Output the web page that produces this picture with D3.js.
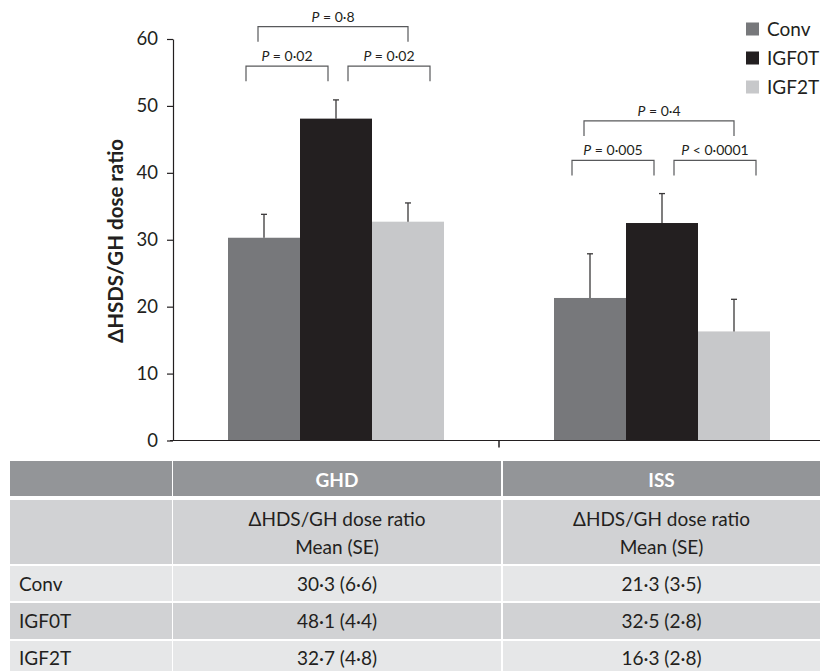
<!DOCTYPE html>
<html><head><meta charset="utf-8">
<script src="https://cdn.jsdelivr.net/npm/d3@7"></script>
<style>
body{margin:0;background:#fff;}
svg{display:block;font-family:Lato,"Open Sans",sans-serif;}
</style></head>
<body><svg id="c" width="820" height="671"></svg>
<script>
const groups = ["GHD", "ISS"];
const series = ["Conv", "IGF0T", "IGF2T"];
const means = { GHD: [30.3, 48.1, 32.7], ISS: [21.3, 32.5, 16.3] };
const tableSE = { GHD: [6.6, 4.4, 4.8], ISS: [3.5, 2.8, 2.8] };
const errBars = { GHD: [3.5, 2.8, 2.8], ISS: [6.6, 4.4, 4.8] };
const yTicks = [0, 10, 20, 30, 40, 50, 60];
const colors = ["#77787b", "#231f20", "#c7c8ca"];
// significance brackets: [group, fromSeries, toSeries, level, label]
const brackets = [
  ["GHD", 0, 1, 53.7, "= 0·02"],
  ["GHD", 1, 2, 53.7, "= 0·02"],
  ["GHD", 0, 2, 59.6, "= 0·8"],
  ["ISS", 0, 1, 39.6, "= 0·005"],
  ["ISS", 1, 2, 39.6, "< 0·0001"],
  ["ISS", 0, 2, 45.5, "= 0·4"]
];
const fmt = v => d3.format(".1f")(v).replace(".", "·");

const svg = d3.select("#c");
const txt = "#231f20";
const FS = 19;
const x = d3.scaleBand().domain(groups).range([173, 825]);
const y = d3.scaleLinear().domain([0, 60]).range([440.5, 39]);
const barW = 72;
const xs = d3.scaleBand().domain(series).range([0, barW * 3]);
const gx = g => x(g) + (x.bandwidth() - barW * 3) / 2;
const cx = (g, i) => gx(g) + xs(series[i]) + barW / 2;

// bars
groups.forEach(g => {
  series.forEach((s, i) => {
    svg.append("rect").attr("x", gx(g) + xs(s)).attr("y", y(means[g][i]))
      .attr("width", barW).attr("height", y(0) - y(means[g][i])).attr("fill", colors[i]);
    const top = means[g][i] + errBars[g][i];
    const c = cx(g, i);
    svg.append("line").attr("x1", c).attr("x2", c).attr("y1", y(means[g][i])).attr("y2", y(top))
      .attr("stroke", "#3a3839").attr("stroke-width", 1.3);
    svg.append("line").attr("x1", c - 3).attr("x2", c + 3).attr("y1", y(top)).attr("y2", y(top))
      .attr("stroke", "#3a3839").attr("stroke-width", 1.3);
  });
});

// axes
const ya = svg.append("g").attr("transform", "translate(173,0)")
  .call(d3.axisLeft(y).tickValues(yTicks).tickSize(6).tickSizeOuter(0).tickPadding(9));
ya.select(".domain").attr("stroke", "#231f20").attr("stroke-width", 1.2);
ya.selectAll(".tick line").attr("stroke", "#231f20").attr("stroke-width", 1.2);
ya.selectAll(".tick text").attr("font-size", 18.5).attr("fill", txt).attr("font-family", "Lato,sans-serif");
svg.append("line").attr("x1", 170).attr("x2", 820).attr("y1", y(0)).attr("y2", y(0))
  .attr("stroke", "#231f20").attr("stroke-width", 1.2);
svg.append("line").attr("x1", x("ISS")).attr("x2", x("ISS")).attr("y1", y(0)).attr("y2", y(0) + 7)
  .attr("stroke", "#231f20").attr("stroke-width", 1.5);

svg.append("text").attr("transform", "translate(123,241) rotate(-90)")
  .attr("text-anchor", "middle").attr("font-size", 20.5).attr("font-weight", "bold").attr("fill", txt)
  .text("ΔHSDS/GH dose ratio");

// brackets
brackets.forEach(([g, a, b, lvl, lab]) => {
  const lower = b - a === 1;
  const x1 = cx(g, a) + (lower ? (a === 0 ? -18 : 12) : -6);
  const x2 = cx(g, b) + (lower ? (a === 0 ? -8 : 22) : 0);
  const yt = y(lvl + 2.25), yb = y(lvl);
  svg.append("path").attr("d", `M${x1},${yb}V${yt}H${x2}V${yb}`)
    .attr("fill", "none").attr("stroke", "#58595b").attr("stroke-width", 1.2);
  const t = svg.append("text").attr("x", (x1 + x2) / 2).attr("y", yt - 5)
    .attr("text-anchor", "middle").attr("font-size", 14).attr("fill", txt);
  t.append("tspan").attr("font-style", "italic").text("P");
  t.append("tspan").text(" " + lab);
});

// legend
series.forEach((s, i) => {
  const ly = 29 + i * 29;
  svg.append("rect").attr("x", 746).attr("y", ly - 6.5).attr("width", 13).attr("height", 13).attr("fill", colors[i]);
  svg.append("text").attr("x", 767).attr("y", ly + 7).attr("font-size", FS).attr("fill", txt).text(s);
});

// table
const cols = [[10, 172], [173, 501], [503, 820]];
const rows = [
  { y0: 461, y1: 496, fill: "#939598", base: 487 },
  { y0: 500, y1: 564, fill: "#d1d2d4", base: 526 },
  { y0: 566, y1: 601, fill: "#e6e7e8", base: 591 },
  { y0: 603, y1: 639, fill: "#d1d2d4", base: 628 },
  { y0: 641, y1: 671, fill: "#e6e7e8", base: 665 }
];
rows.forEach(r => cols.forEach(c => {
  svg.append("rect").attr("x", c[0]).attr("y", r.y0).attr("width", c[1] - c[0]).attr("height", r.y1 - r.y0).attr("fill", r.fill);
}));
groups.forEach((g, gi) => {
  const c = cols[gi + 1], mx = (c[0] + c[1]) / 2;
  svg.append("text").attr("x", mx).attr("y", rows[0].base).attr("text-anchor", "middle")
    .attr("font-size", FS).attr("font-weight", "bold").attr("fill", "#fff").text(g);
  svg.append("text").attr("x", mx).attr("y", rows[1].base).attr("text-anchor", "middle")
    .attr("font-size", FS).attr("fill", txt).text("ΔHDS/GH dose ratio");
  svg.append("text").attr("x", mx).attr("y", rows[1].base + 28).attr("text-anchor", "middle")
    .attr("font-size", FS).attr("fill", txt).text("Mean (SE)");
  series.forEach((s, i) => {
    svg.append("text").attr("x", mx).attr("y", rows[i + 2].base).attr("text-anchor", "middle")
      .attr("font-size", FS).attr("fill", txt).text(`${fmt(means[g][i])} (${fmt(tableSE[g][i])})`);
  });
});
series.forEach((s, i) => {
  svg.append("text").attr("x", 19).attr("y", rows[i + 2].base)
    .attr("font-size", FS).attr("fill", txt).text(s);
});
</script></body></html>
